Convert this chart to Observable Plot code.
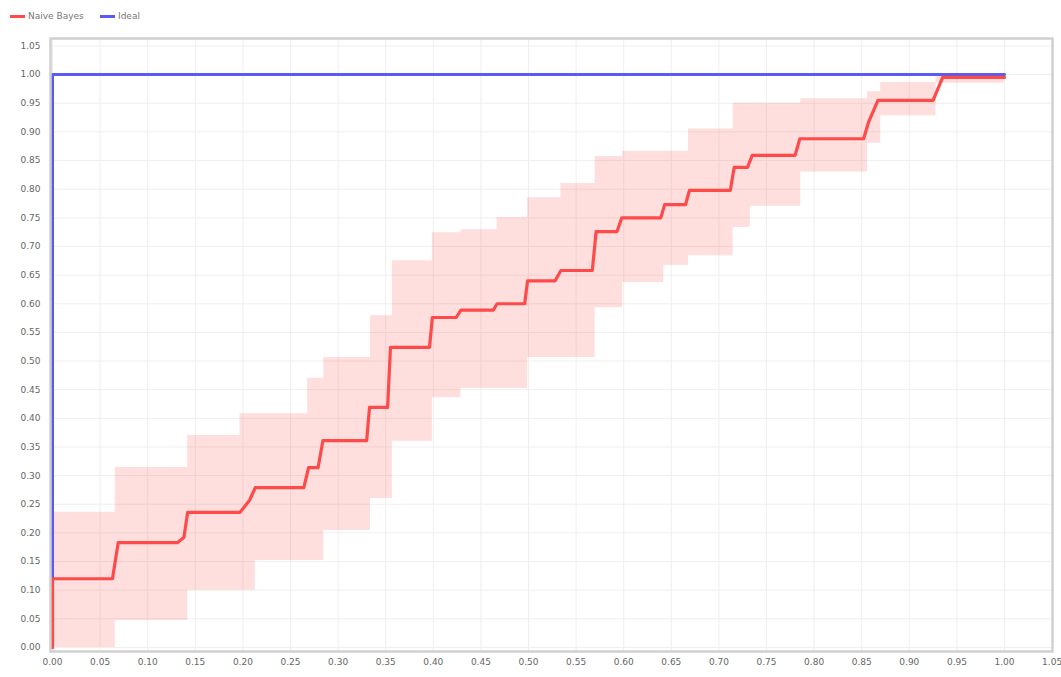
<!DOCTYPE html>
<html>
<head>
<meta charset="utf-8">
<script src="https://cdn.jsdelivr.net/npm/d3@7"></script>
<script src="https://cdn.jsdelivr.net/npm/@observablehq/plot@0.6"></script>
<style>
  html, body { margin: 0; padding: 0; background: #fff; }
  #legend { height: 30px; position: relative; font-family: "DejaVu Sans", sans-serif; font-size: 9px; color: #777; }
  .item { position: absolute; top: 11px; display: flex; align-items: center; }
  .sw { width: 15px; height: 3px; margin-right: 3px; }
  #chart svg { display: block; }
</style>
</head>
<body>
<div id="legend"></div>
<div id="chart"></div>
<script>
// ---- data ----
const seriesNames = ["Naive Bayes", "Ideal"];
const seriesColors = ["#ff4a4a", "#5a5af5"];

// ROC curve of Naive Bayes (false positive rate, true positive rate)
const rocFpr = [0, 0, 0.063, 0.069, 0.131, 0.138, 0.142, 0.197, 0.207, 0.213, 0.264, 0.269, 0.279, 0.284, 0.330, 0.333, 0.352, 0.355, 0.396, 0.399, 0.424, 0.429, 0.463, 0.467, 0.496, 0.499, 0.528, 0.534, 0.567, 0.571, 0.593, 0.598, 0.639, 0.643, 0.665, 0.669, 0.712, 0.716, 0.730, 0.735, 0.780, 0.785, 0.852, 0.857, 0.867, 0.925, 0.935, 1.0];
const rocTpr = [0, 0.120, 0.120, 0.183, 0.183, 0.192, 0.236, 0.236, 0.257, 0.279, 0.279, 0.314, 0.314, 0.361, 0.361, 0.419, 0.419, 0.524, 0.524, 0.576, 0.576, 0.589, 0.589, 0.600, 0.600, 0.640, 0.640, 0.658, 0.658, 0.726, 0.726, 0.750, 0.750, 0.773, 0.773, 0.798, 0.798, 0.838, 0.838, 0.859, 0.859, 0.888, 0.888, 0.916, 0.955, 0.955, 0.995, 0.995];

// confidence band (step starts)
const bandX     = [0, 0.066, 0.142, 0.197, 0.213, 0.268, 0.285, 0.334, 0.357, 0.399, 0.429, 0.467, 0.499, 0.534, 0.570, 0.599, 0.642, 0.668, 0.715, 0.733, 0.786, 0.856, 0.870, 0.928, 1.0];
const bandLower = [0, 0.047, 0.10, 0.10, 0.152, 0.152, 0.204, 0.26, 0.36, 0.436, 0.452, 0.452, 0.506, 0.506, 0.593, 0.637, 0.667, 0.684, 0.733, 0.77, 0.83, 0.88, 0.928, 0.985, 0.985];
const bandUpper = [0.236, 0.314, 0.37, 0.408, 0.408, 0.47, 0.506, 0.579, 0.675, 0.724, 0.729, 0.75, 0.785, 0.81, 0.857, 0.866, 0.866, 0.905, 0.95, 0.95, 0.958, 0.97, 0.986, 1.0, 1.0];

// ideal classifier
const idealFpr = [0, 0, 1];
const idealTpr = [0, 1, 1];

const tickValues = [0, 0.05, 0.10, 0.15, 0.20, 0.25, 0.30, 0.35, 0.40, 0.45, 0.50, 0.55, 0.60, 0.65, 0.70, 0.75, 0.80, 0.85, 0.90, 0.95, 1.00, 1.05];

// ---- build tables ----
const roc = rocFpr.map((x, i) => ({x, y: rocTpr[i]}));
const band = bandX.map((x, i) => ({x, lo: bandLower[i], hi: bandUpper[i]}));
const ideal = idealFpr.map((x, i) => ({x, y: idealTpr[i]}));
const fmt = d3.format(".2f");

// ---- legend ----
const legend = document.getElementById("legend");
const lx = [10, 100];
seriesNames.forEach((n, i) => {
  const d = document.createElement("div");
  d.className = "item";
  d.style.left = lx[i] + "px";
  d.innerHTML = `<div class="sw" style="background:${seriesColors[i]}"></div><span>${n}</span>`;
  legend.appendChild(d);
});

// ---- chart ----
const chart = Plot.plot({
  width: 1061,
  height: 647,
  marginLeft: 50,
  marginRight: 9,
  marginTop: 8,
  marginBottom: 26,
  style: {fontFamily: "DejaVu Sans, sans-serif", fontSize: "9px", color: "#666", background: "#fff"},
  x: {domain: [-0.0021, 1.0504], label: null},
  y: {domain: [-0.007, 1.063], label: null},
  marks: [
    Plot.gridX(tickValues, {stroke: "#efefef", strokeOpacity: 1}),
    Plot.gridY(tickValues, {stroke: "#efefef", strokeOpacity: 1}),
    Plot.areaY(band, {x: "x", y1: "lo", y2: "hi", curve: "step-after", fill: "#ff2020", fillOpacity: 0.15}),
    Plot.line(ideal, {x: "x", y: "y", stroke: seriesColors[1], strokeWidth: 3}),
    Plot.line(roc, {x: "x", y: "y", stroke: seriesColors[0], strokeWidth: 3.2}),
    Plot.frame({stroke: "#d0d0d0", strokeWidth: 2.5}),
    Plot.axisX(tickValues, {tickSize: 0, tickPadding: 7, tickFormat: fmt, label: null}),
    Plot.axisY(tickValues, {tickSize: 0, tickPadding: 10, tickFormat: fmt, label: null})
  ]
});
document.getElementById("chart").appendChild(chart);
</script>
</body>
</html>
